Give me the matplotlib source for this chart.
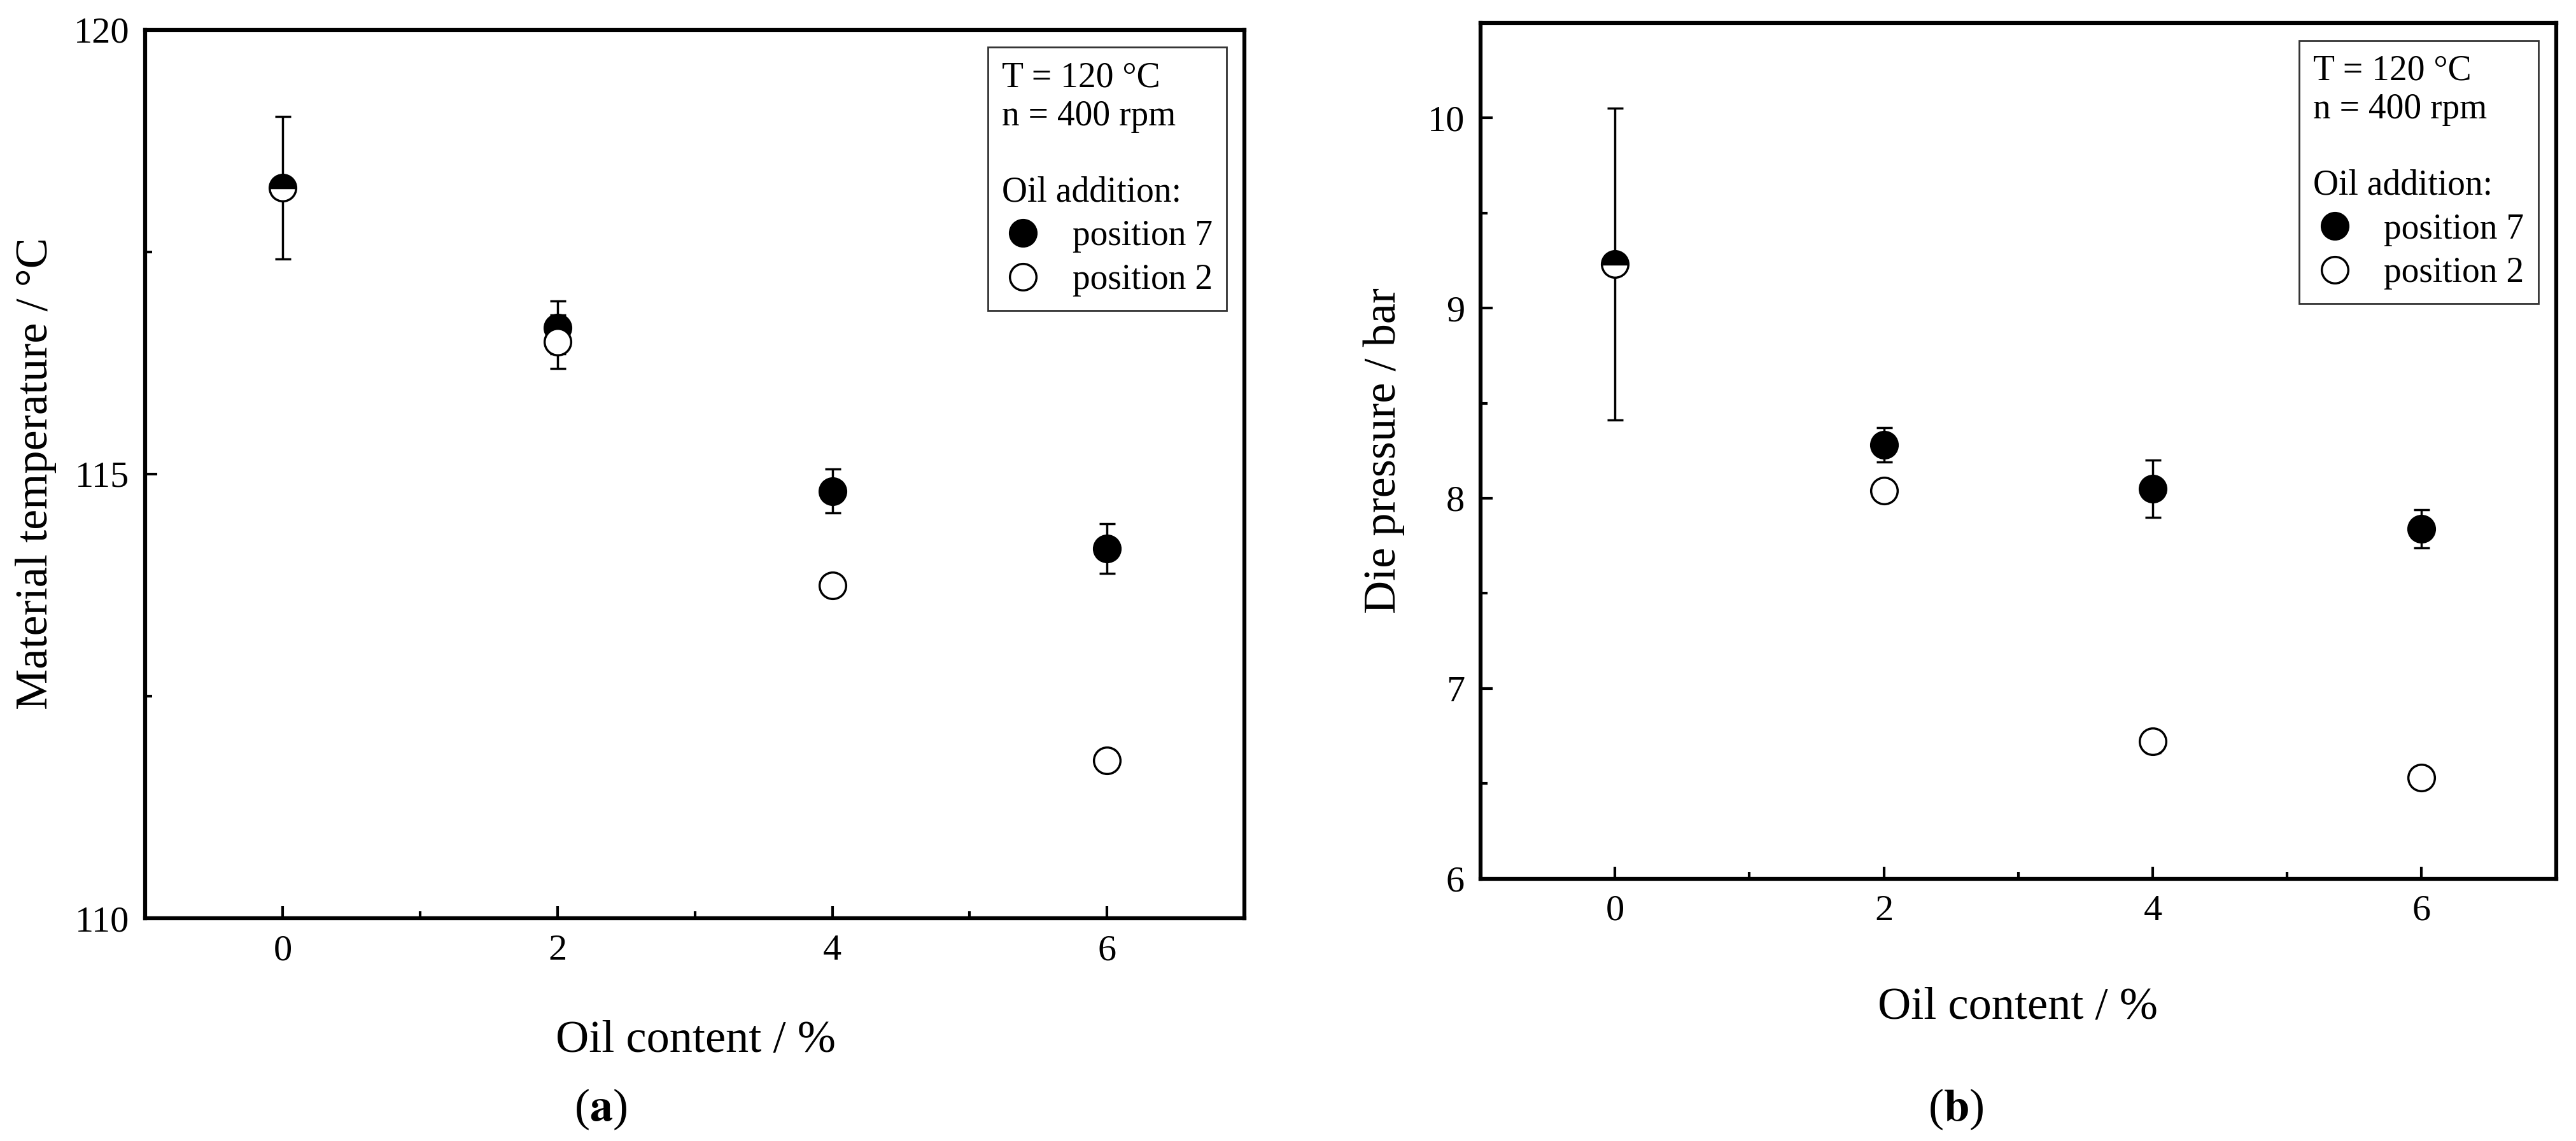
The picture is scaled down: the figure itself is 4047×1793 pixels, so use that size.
import numpy as np
import matplotlib.pyplot as plt
from matplotlib.ticker import MultipleLocator
from matplotlib.lines import Line2D

plt.rcParams['font.family'] = ['Liberation Serif', 'DejaVu Serif']
plt.rcParams['mathtext.fontset'] = 'stix'

# oil content / %
oil = [2, 4, 6]
oil0 = 0

# material temperature / degC
temp0, temp0_err = 118.22, 0.8
temp_p7 = [116.65, 114.81, 114.16]
temp_p7_err = [0.3, 0.25, 0.28]
temp_p2 = [116.49, 113.75, 111.78]
temp_p2_err = [0.3, 0.08, 0.12]

# die pressure / bar
pres0, pres0_err = 9.23, 0.82
pres_p7 = [8.28, 8.05, 7.84]
pres_p7_err = [0.09, 0.15, 0.1]
pres_p2 = [8.04, 6.72, 6.53]
pres_p2_err = [0.05, 0.06, 0.03]

fig = plt.figure(figsize=(40.48, 17.93), dpi=100)
axL = fig.add_axes([0.0564, 0.195, 0.4266, 0.779])
axR = fig.add_axes([0.5746, 0.230, 0.4174, 0.750])

ms, lw, cs = 30, 2.5, 9
ekw = dict(ecolor='black', elinewidth=lw, capsize=cs, capthick=lw, linestyle='none', zorder=3)

def panel(ax, y0, e0, y7, e7, y2, e2, ylim, major, minor):
    ax.errorbar([oil0], [y0], yerr=[e0], fmt='o', ms=ms, mfc='black', mfcalt='white',
                fillstyle='top', mec='black', mew=lw, **ekw)
    ax.errorbar(oil, y7, yerr=e7, fmt='o', ms=ms, mfc='black', mec='black', mew=lw, **ekw)
    ax.errorbar(oil, y2, yerr=e2, fmt='o', ms=ms, mfc='white', mec='black', mew=lw, **ekw)
    ax.set_xlim(-1, 7)
    ax.set_ylim(*ylim)
    ax.xaxis.set_major_locator(MultipleLocator(2))
    ax.xaxis.set_minor_locator(MultipleLocator(1))
    ax.yaxis.set_major_locator(MultipleLocator(major))
    ax.yaxis.set_minor_locator(MultipleLocator(minor))
    ax.tick_params(which='both', direction='in', width=3, labelsize=42, pad=18)
    ax.tick_params(which='major', length=14)
    ax.tick_params(which='minor', length=8)
    for s in ax.spines.values():
        s.set_linewidth(4.5)
    handles = [Line2D([], [], marker='o', ls='none', ms=ms, mfc='black', mec='black', mew=lw),
               Line2D([], [], marker='o', ls='none', ms=ms, mfc='white', mec='black', mew=lw)]
    leg = ax.legend(handles, ['position 7', 'position 2'], loc='upper right',
                    title='T = 120 °C\nn = 400 rpm\n\nOil addition:',
                    fontsize=40, title_fontsize=40, frameon=True, fancybox=False,
                    edgecolor='black', borderaxespad=0.5, handletextpad=0.8,
                    handlelength=1.2, borderpad=0.4, labelspacing=0.3)
    leg._legend_box.align = 'left'
    leg.get_frame().set_linewidth(2)

panel(axL, temp0, temp0_err, temp_p7, temp_p7_err, temp_p2, temp_p2_err,
      (110, 120), 5, 2.5)
panel(axR, pres0, pres0_err, pres_p7, pres_p7_err, pres_p2, pres_p2_err,
      (6, 10.5), 1, 0.5)

fig.text(0.014, 0.585, 'Material temperature / °C', rotation=90, ha='center', va='center', fontsize=52)
fig.text(0.537, 0.605, 'Die pressure / bar', rotation=90, ha='center', va='center', fontsize=52)
fig.text(0.270, 0.088, 'Oil content / %', ha='center', va='center', fontsize=52)
fig.text(0.783, 0.117, 'Oil content / %', ha='center', va='center', fontsize=52)
fig.text(0.233, 0.028, r'($\mathbf{a}$)', ha='center', va='center', fontsize=52)
fig.text(0.759, 0.028, r'($\mathbf{b}$)', ha='center', va='center', fontsize=52)

fig.savefig('out.png', dpi=100)
